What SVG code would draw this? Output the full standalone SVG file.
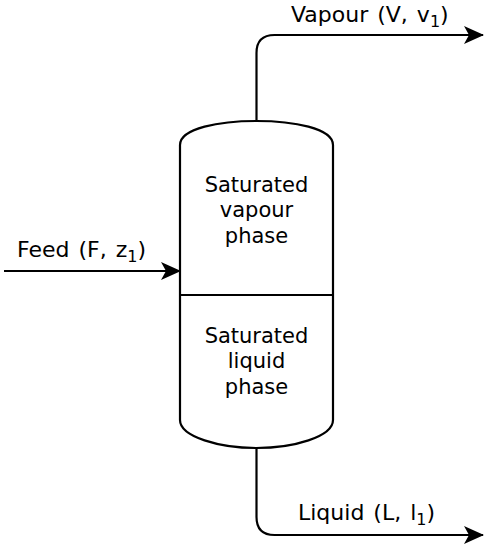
<svg xmlns="http://www.w3.org/2000/svg" width="490" height="550" viewBox="0 0 490 550">
<style>
.ln{fill:none;stroke:#000;stroke-width:2.2}
text{font-family:"DejaVu Sans",Verdana,sans-serif;font-size:21px;fill:#000}
.c{text-anchor:middle}
.lb{font-size:22px;word-spacing:2px}
</style>
<defs>
<marker id="arr" viewBox="0 0 20 18" refX="19" refY="9" markerWidth="20" markerHeight="18" markerUnits="userSpaceOnUse" orient="auto">
<path d="M0,0 L20,9 L0,18 L5,9 Z" fill="#000"/>
</marker>
</defs>
<rect width="490" height="550" fill="#fff"/>
<g id="vessel">
<path class="ln" d="M180,420 L180,145 C180,128 220,121 256.5,121 C293,121 333,128 333,145 L333,420 C333,437 293,448 256.5,448 C220,448 180,437 180,420 Z"/>
<line class="ln" x1="180" y1="295" x2="333" y2="295"/>
<text class="c" x="256.5" y="192">Saturated</text>
<text class="c" x="256.5" y="217">vapour</text>
<text class="c" x="256.5" y="243">phase</text>
<text class="c" x="256.5" y="343">Saturated</text>
<text class="c" x="256.5" y="368">liquid</text>
<text class="c" x="256.5" y="394">phase</text>
</g>
<g id="connectors">
<path class="ln" d="M256.5,121 L256.5,53 Q256.5,35 274.5,35 L483,35" marker-end="url(#arr)"/>
<path class="ln" d="M256.5,448 L256.5,517 Q256.5,535 274.5,535 L483,535" marker-end="url(#arr)"/>
<path class="ln" d="M4,271 L180,271" marker-end="url(#arr)"/>
</g>
<g id="labels">
<text class="lb" x="291" y="22">Vapour (V, v<tspan font-size="16" dy="5">1</tspan><tspan dy="-5">)</tspan></text>
<text class="lb" x="17" y="257">Feed (F, z<tspan font-size="16" dy="5">1</tspan><tspan dy="-5">)</tspan></text>
<text class="lb" x="298" y="520">Liquid (L, l<tspan font-size="16" dy="5">1</tspan><tspan dy="-5">)</tspan></text>
</g>
</svg>
